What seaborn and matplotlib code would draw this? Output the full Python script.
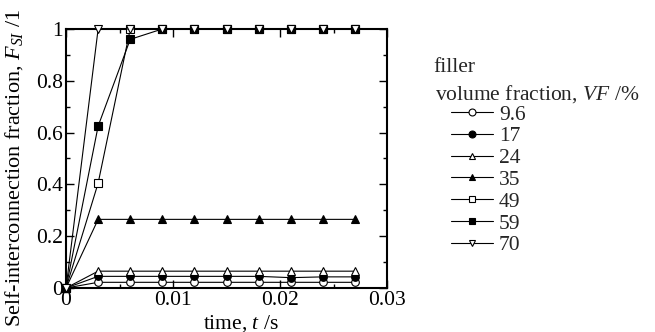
import matplotlib
matplotlib.use("Agg")
import matplotlib.pyplot as plt
import seaborn as sns
import pandas as pd
from matplotlib.ticker import MultipleLocator, FuncFormatter
from matplotlib.lines import Line2D

time = [0, 0.003, 0.006, 0.009, 0.012, 0.015, 0.018, 0.021, 0.024, 0.027]
vf_labels = ["9.6", "17", "24", "35", "49", "59", "70"]
f_96 = [0, 0.022, 0.022, 0.022, 0.022, 0.022, 0.022, 0.022, 0.022, 0.022]
f_17 = [0, 0.045, 0.045, 0.045, 0.045, 0.045, 0.045, 0.040, 0.043, 0.043]
f_24 = [0, 0.065, 0.065, 0.065, 0.065, 0.065, 0.065, 0.065, 0.065, 0.065]
f_35 = [0, 0.265, 0.265, 0.265, 0.265, 0.265, 0.265, 0.265, 0.265, 0.265]
f_49 = [0, 0.405, 1, 1, 1, 1, 1, 1, 1, 1]
f_59 = [0, 0.625, 0.96, 1, 1, 1, 1, 1, 1, 1]
f_70 = [0, 1, 1, 1, 1, 1, 1, 1, 1, 1]
series = [f_96, f_17, f_24, f_35, f_49, f_59, f_70]

markers = ["o", "o", "^", "^", "s", "s", "v"]
faces = ["white", "black", "white", "black", "white", "black", "white"]

FS = 15.5
sns.set_theme(style="ticks")
plt.rcParams["font.family"] = ["Liberation Serif", "DejaVu Serif"]
plt.rcParams["mathtext.fontset"] = "custom"
plt.rcParams["mathtext.rm"] = "Liberation Serif"
plt.rcParams["mathtext.it"] = "Liberation Serif:italic"

fig = plt.figure(figsize=(6.55, 3.32), dpi=100)
ax = fig.add_axes([0.1008, 0.1325, 0.4902, 0.7802])

handles = []
for lab, vals, m, fc in zip(vf_labels, series, markers, faces):
    df = pd.DataFrame({"t": time, "F": vals})
    sns.lineplot(data=df, x="t", y="F", ax=ax, color="black", lw=0.8,
                 marker=m, markersize=5.5, markerfacecolor=fc,
                 markeredgecolor="black", markeredgewidth=0.8,
                 clip_on=False, zorder=3, legend=False)
    handles.append(Line2D([], [], color="black", lw=0.8, marker=m, markersize=5,
                          markerfacecolor=fc, markeredgecolor="black",
                          markeredgewidth=0.8, label=lab))

ax.set_xlim(0, 0.03)
ax.set_ylim(0, 1)
ax.xaxis.set_major_locator(MultipleLocator(0.01))
ax.xaxis.set_minor_locator(MultipleLocator(0.005))
ax.yaxis.set_major_locator(MultipleLocator(0.2))
ax.yaxis.set_minor_locator(MultipleLocator(0.1))
fmt = FuncFormatter(lambda v, p: "%g" % round(v, 6))
ax.xaxis.set_major_formatter(fmt)
ax.yaxis.set_major_formatter(fmt)
ax.tick_params(which="both", direction="in", top=True, right=True,
               labelsize=FS, width=1.0, colors="black", pad=2)
ax.tick_params(which="major", length=6)
ax.tick_params(which="minor", length=3)
for s in ax.spines.values():
    s.set_linewidth(1.5)
    s.set_color("black")
ax.set_xlabel("time, $\\mathit{t}$ /s", fontsize=FS, color="black")
ax.set_ylabel("Self-interconnection fraction, $\\mathit{F}_{\\mathit{SI}}$ /1",
              fontsize=16, color="black")
ax.xaxis.set_label_coords(0.545, -0.095)
ax.yaxis.set_label_coords(-0.128, 0.463)

fig.text(0.661, 0.798, "filler", fontsize=FS, va="center", ha="left")
fig.text(0.664, 0.718, "volume fraction, $\\mathit{VF}$ /%", fontsize=FS,
         va="center", ha="left")
leg = fig.legend(handles=handles, loc="upper left", bbox_to_anchor=(0.688, 0.685),
                 frameon=False, fontsize=FS, handlelength=1.95, handletextpad=0.3,
                 labelspacing=0.08, borderaxespad=0, borderpad=0)

fig.savefig("out.png", dpi=100)
